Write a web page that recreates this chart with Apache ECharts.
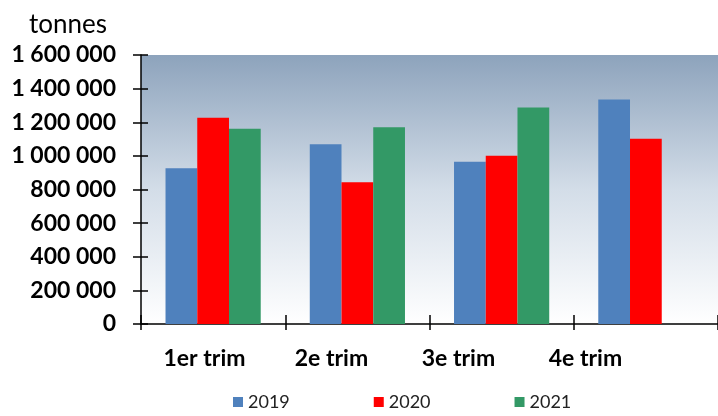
<!DOCTYPE html>
<html>
<head>
<meta charset="utf-8">
<script src="https://cdn.jsdelivr.net/npm/echarts@6/dist/echarts.min.js"></script>
<style>html,body{margin:0;padding:0;background:#fff;}#c{width:718px;height:416px;}</style>
</head>
<body>
<div id="c"></div>
<script>
const categories = ['1er trim', '2e trim', '3e trim', '4e trim'];
const years = ['2019', '2020', '2021'];
const v2019 = [926000, 1069000, 965000, 1336000];
const v2020 = [1227000, 843000, 1001000, 1102000];
const v2021 = [1162000, 1170000, 1287000, null];
const yTicks = [0, 200000, 400000, 600000, 800000, 1000000, 1200000, 1400000, 1600000];
const unitLabel = 'tonnes';

const colors = ['#4F81BD', '#FF0000', '#339966'];
const fmt = v => String(v).replace(/\B(?=(\d{3})+(?!\d))/g, ' ');
const chart = echarts.init(document.getElementById('c'));
const font = 'Lato, "Open Sans", sans-serif';
chart.setOption({
  animation: false,
  title: { text: unitLabel, left: 24, top: 7, textStyle: { fontFamily: font, fontSize: 26, fontWeight: 'normal', color: '#000' } },
  legend: {
    bottom: 0, left: 228, itemGap: 84, itemWidth: 10, itemHeight: 10,
    icon: 'rect',
    textStyle: { fontFamily: font, fontSize: 18, color: '#222' },
    data: years
  },
  grid: [
    { left: 141, right: 0, top: 55, bottom: 92, show: true, borderWidth: 0,
      backgroundColor: new echarts.graphic.LinearGradient(0, 0, 0, 1, [
        { offset: 0, color: '#8DA3BC' },
        { offset: 0.5, color: '#D3DDE8' },
        { offset: 1, color: '#FFFFFF' }
      ]) },
    { left: 141, right: 69, top: 55, bottom: 92 }
  ],
  xAxis: [
    { type: 'category', data: categories, gridIndex: 0,
      axisLine: { lineStyle: { color: '#000', width: 1.5 } },
      axisTick: { show: true, length: 6, lineStyle: { color: '#000', width: 1.5 } },
      axisLabel: { show: false } },
    { type: 'category', data: categories, gridIndex: 0,
      position: 'bottom',
      axisLine: { show: false },
      axisTick: { show: true, inside: true, length: 9, lineStyle: { color: '#000', width: 1.5 } },
      axisLabel: { show: false } },
    { type: 'category', data: categories, gridIndex: 1,
      axisLine: { show: false }, axisTick: { show: false },
      axisLabel: { margin: 23, fontFamily: font, fontSize: 23, fontWeight: 'bold', color: '#000' } }
  ],
  yAxis: [
    { type: 'value', gridIndex: 0, min: 0, max: 1600000, interval: 200000,
      splitLine: { show: false },
      axisLine: { show: true, lineStyle: { color: '#000', width: 1.5 } },
      axisTick: { show: true, length: 8, lineStyle: { color: '#000', width: 1.5 } },
      axisLabel: { margin: 25, fontFamily: font, fontSize: 23, fontWeight: 'bold', color: '#000',
        formatter: v => yTicks.includes(v) ? fmt(v) : '' } },
    { type: 'value', gridIndex: 0, min: 0, max: 1600000, interval: 200000, position: 'left',
      splitLine: { show: false }, axisLine: { show: false }, axisLabel: { show: false },
      axisTick: { show: true, inside: true, length: 7, lineStyle: { color: '#000', width: 1.5 } } },
    { type: 'value', gridIndex: 1, show: false, min: 0, max: 1600000 }
  ],
  series: [v2019, v2020, v2021].map((d, i) => ({
    name: years[i], type: 'bar', data: d, xAxisIndex: 0, yAxisIndex: 0,
    barGap: '0%', barCategoryGap: '34%',
    itemStyle: { color: colors[i] }
  }))
});
</script>
</body>
</html>
